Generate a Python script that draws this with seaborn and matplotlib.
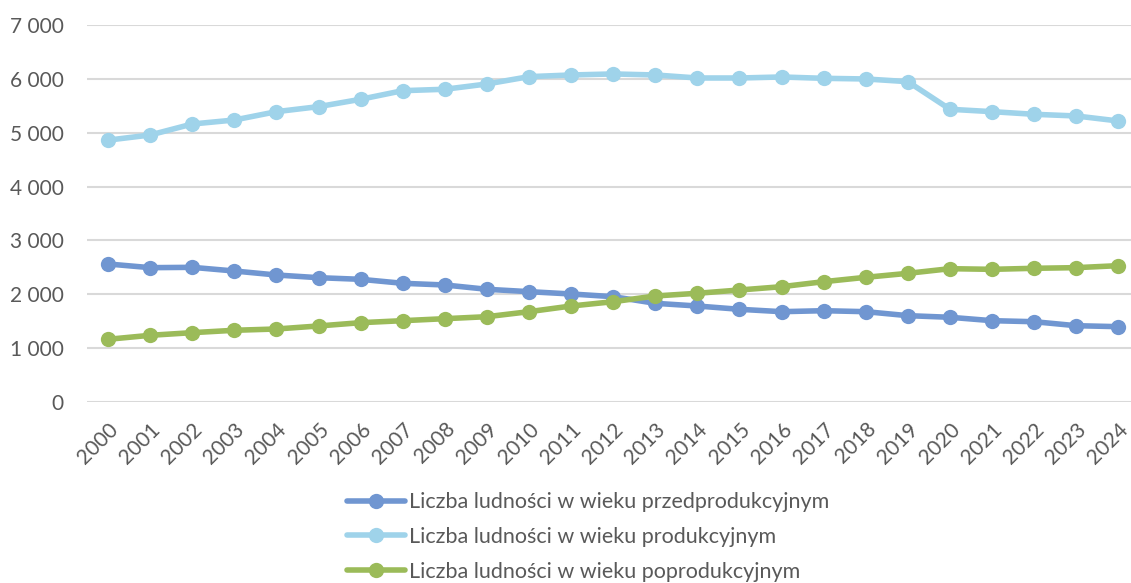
import matplotlib
matplotlib.use("Agg")
import matplotlib.pyplot as plt
import seaborn as sns
import pandas as pd
from matplotlib.ticker import FuncFormatter

years = list(range(2000, 2025))
przed = [2564, 2496, 2502, 2434, 2360, 2310, 2280, 2206, 2175, 2095, 2051, 2008, 1958,
         1835, 1785, 1724, 1680, 1698, 1680, 1606, 1576, 1513, 1494, 1420, 1402]
prod = [4860, 4955, 5159, 5233, 5388, 5481, 5617, 5777, 5803, 5901, 6037, 6068, 6087,
        6068, 6012, 6012, 6031, 6006, 5994, 5944, 5432, 5388, 5339, 5308, 5215]
popr = [1168, 1242, 1291, 1335, 1359, 1415, 1476, 1513, 1550, 1587, 1680, 1785, 1865,
        1971, 2021, 2082, 2143, 2236, 2317, 2391, 2477, 2465, 2484, 2496, 2533]
labels = ["Liczba ludności w wieku przedprodukcyjnym",
          "Liczba ludności w wieku produkcyjnym",
          "Liczba ludności w wieku poprodukcyjnym"]
colors = ["#7096D1", "#9FD3EA", "#9BBB59"]

rows = []
for lab, vals in zip(labels, [przed, prod, popr]):
    for i, v in enumerate(vals):
        rows.append({"idx": i, "value": v, "series": lab})
df = pd.DataFrame(rows)

sns.set_theme(style="white")
plt.rcParams['font.family'] = ['Lato', 'DejaVu Sans']

fig = plt.figure(figsize=(11.31, 5.83), dpi=100)
ax = fig.add_axes([87/1131, 1 - 402.3/583, 1 - 87/1131, (402.3 - 24.7)/583])

sns.lineplot(data=df, x="idx", y="value", hue="series", hue_order=labels,
             palette=colors, marker="o", markersize=11, linewidth=4,
             markeredgewidth=0, ax=ax, legend=False, clip_on=False)

ax.set_xlim(-0.5, 24.3)
ax.set_ylim(0, 7000)
ax.set_yticks(range(0, 7001, 1000))
ax.yaxis.set_major_formatter(FuncFormatter(lambda v, p: f"{int(v):,}".replace(",", " ")))
ax.set_xticks(range(len(years)))
ax.set_xticklabels([str(y) for y in years], rotation=45, ha="right",
                   rotation_mode="anchor")
ax.grid(axis="y", color="#D9D9D9", linewidth=1.5)
ax.set_axisbelow(True)
for s in ax.spines.values():
    s.set_visible(False)
ax.tick_params(axis="y", labelsize=15, labelcolor="#595959", length=0, pad=17)
ax.tick_params(axis="x", labelsize=15, labelcolor="#595959", length=0, pad=12)
ax.set_xlabel("")
ax.set_ylabel("")

handles = [plt.Line2D([], [], color=c, marker="o", markersize=11, linewidth=4,
                      markeredgewidth=0) for c in colors]
fig.legend(handles, labels, loc="upper center", bbox_to_anchor=(0.52, 0.185),
           frameon=False, fontsize=15.5, labelcolor="#595959", handlelength=2.7,
           handletextpad=0.15, labelspacing=0.68, borderpad=0.3)

fig.savefig("out.png", dpi=100)
